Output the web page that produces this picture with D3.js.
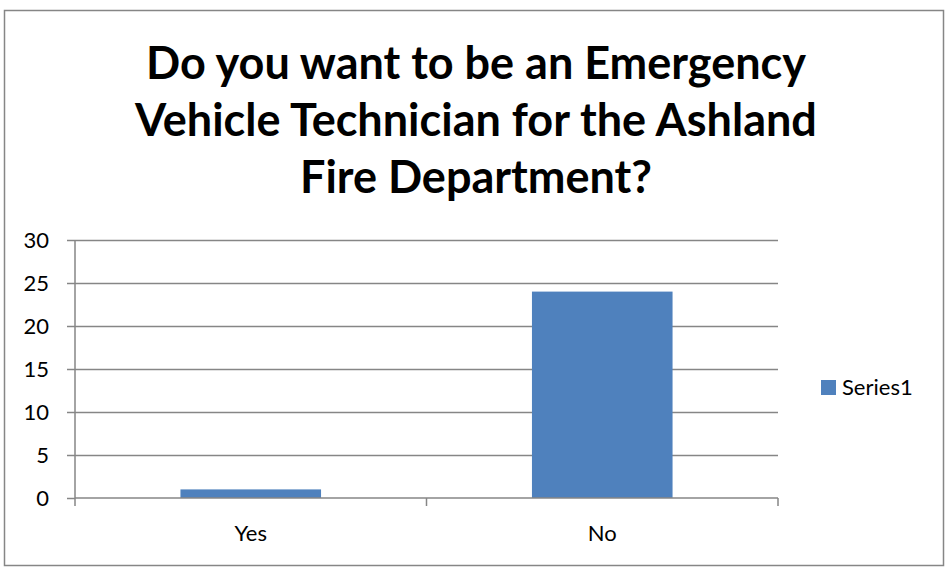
<!DOCTYPE html>
<html lang="en">
<head>
<meta charset="utf-8">
<title>Emergency Vehicle Technician</title>
<script src="https://cdn.jsdelivr.net/npm/d3@7"></script>
<style>
  body { margin: 0; background: #fff; }
  svg { font-family: Lato, "Open Sans", sans-serif; }
</style>
</head>
<body>
<svg id="chart"></svg>
<script>
// data
var categories = ["Yes", "No"];
var values = [1, 24];
var yTicks = [0, 5, 10, 15, 20, 25, 30];
var seriesName = "Series1";
var titleLines = ["Do you want to be an Emergency", "Vehicle Technician for the Ashland", "Fire Department?"];

var svgWidth = 948, svgHeight = 571;
var margin = { top: 240, right: 170, bottom: 73, left: 75 };
var width = 778 - margin.left;
var height = 498 - margin.top;
var gray = "#868686";
var barColor = "#4f81bd";

var svg = d3.select("#chart")
    .attr("width", svgWidth)
    .attr("height", svgHeight);

// outer frame
svg.append("rect")
    .attr("x", 4.5).attr("y", 10.5)
    .attr("width", 939).attr("height", 555)
    .attr("fill", "#fff")
    .attr("stroke", gray)
    .attr("stroke-width", 1.5);

// title
svg.append("g").selectAll("text")
    .data(titleLines)
    .enter().append("text")
    .attr("x", 476)
    .attr("y", function(d, i) { return 79 + i * 57; })
    .attr("text-anchor", "middle")
    .style("font-size", "45px")
    .style("font-weight", "bold")
    .text(function(d) { return d; });

var g = svg.append("g")
    .attr("transform", "translate(" + margin.left + "," + margin.top + ")");

var yScale = d3.scaleLinear().domain([0, 30]).range([height, 0]);
var xScale = d3.scaleBand().domain(categories).range([0, width]);

// gridlines
g.append("g").selectAll("line")
    .data(yTicks.filter(function(d) { return d > 0; }))
    .enter().append("line")
    .attr("x1", 0).attr("x2", width)
    .attr("y1", function(d) { return Math.round(yScale(d)) + 0.5; })
    .attr("y2", function(d) { return Math.round(yScale(d)) + 0.5; })
    .attr("stroke", gray)
    .attr("stroke-width", 1.5);

// bars
var bw = xScale.bandwidth() / 2.5;
g.selectAll(".bar")
    .data(values)
    .enter().append("rect")
    .attr("class", "bar")
    .attr("x", function(d, i) { return xScale(categories[i]) + (xScale.bandwidth() - bw) / 2; })
    .attr("y", function(d) { return yScale(d); })
    .attr("width", bw)
    .attr("height", function(d) { return height - yScale(d); })
    .attr("fill", barColor);

// y axis
var yAxis = g.append("g")
    .call(d3.axisLeft(yScale).tickValues(yTicks).tickSize(8).tickPadding(18));
yAxis.select(".domain").attr("stroke", gray).attr("stroke-width", 1.5).attr("d", "M0," + height + "V0");
yAxis.selectAll(".tick line").attr("stroke", gray).attr("stroke-width", 1.5);
yAxis.selectAll("text")
    .style("font-size", "22px")
    .style("font-family", "Lato, sans-serif")
    .attr("fill", "#000");

// x axis with category boundary ticks
var xAxis = g.append("g").attr("transform", "translate(0," + height + ")");
xAxis.append("line")
    .attr("x1", 0).attr("x2", width)
    .attr("stroke", gray).attr("stroke-width", 1.5);
var bounds = categories.map(function(c) { return xScale(c); }).concat([width]);
xAxis.selectAll(".btick")
    .data(bounds)
    .enter().append("line")
    .attr("class", "btick")
    .attr("x1", function(d) { return d; }).attr("x2", function(d) { return d; })
    .attr("y1", 0).attr("y2", 8)
    .attr("stroke", gray).attr("stroke-width", 1.5);
xAxis.selectAll(".xlabel")
    .data(categories)
    .enter().append("text")
    .attr("class", "xlabel")
    .attr("x", function(d) { return xScale(d) + xScale.bandwidth() / 2; })
    .attr("y", 43)
    .attr("text-anchor", "middle")
    .style("font-size", "22px")
    .text(function(d) { return d; });

// legend
var legend = svg.append("g").attr("transform", "translate(821,380)");
legend.append("rect")
    .attr("width", 15).attr("height", 15)
    .attr("fill", barColor);
legend.append("text")
    .attr("x", 21).attr("y", 15)
    .style("font-size", "22px")
    .text(seriesName);
</script>
</body>
</html>
